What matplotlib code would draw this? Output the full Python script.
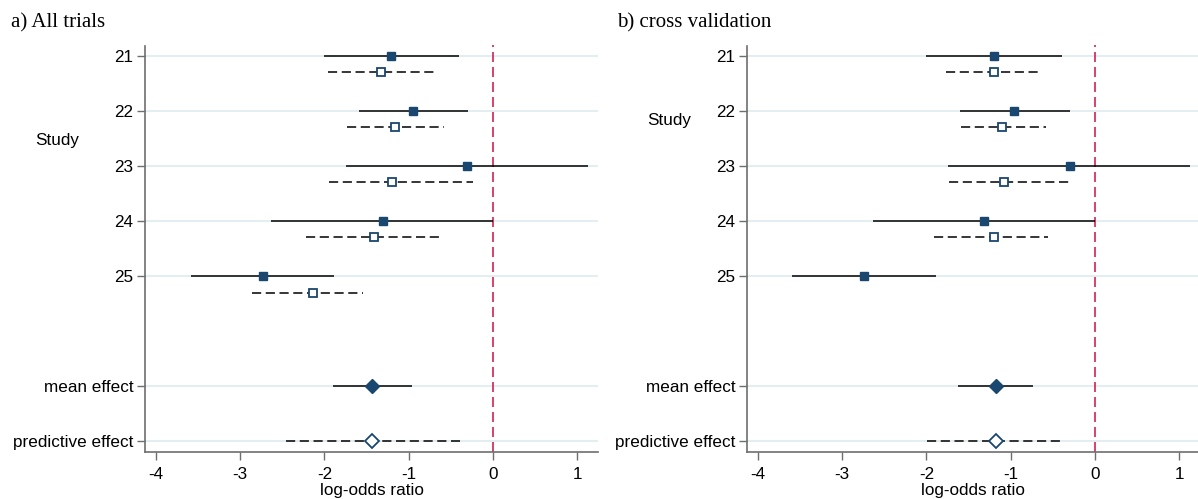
import numpy as np
import matplotlib.pyplot as plt

# rows: studies 21-25, then mean effect and predictive effect
row_labels = ['21', '22', '23', '24', '25', 'mean effect', 'predictive effect']
row_pos = [0, 1, 2, 3, 4, 6, 7]

# a) All trials - study estimates (solid) and shrunken estimates (dashed)
a_est = [-1.205, -0.955, -0.305, -1.31, -2.736]
a_lo = [-2.0, -1.595, -1.74, -2.636, -3.58]
a_hi = [-0.4, -0.30, 1.13, 0.0, -1.886]
a_shr_est = [-1.33, -1.16, -1.195, -1.414, -2.136]
a_shr_lo = [-1.955, -1.73, -1.945, -2.218, -2.855]
a_shr_hi = [-0.69, -0.58, -0.236, -0.618, -1.545]
a_mean = [-1.436, -1.9, -0.96]        # est, lo, hi
a_pred = [-1.436, -2.46, -0.395]

# b) cross validation (no shrunken estimate for study 25)
b_est = [-1.195, -0.959, -0.30, -1.314, -2.745]
b_lo = [-2.009, -1.60, -1.745, -2.636, -3.59]
b_hi = [-0.391, -0.30, 1.13, 0.0, -1.886]
b_shr_est = [-1.195, -1.10, -1.08, -1.20]
b_shr_lo = [-1.764, -1.59, -1.727, -1.905]
b_shr_hi = [-0.636, -0.58, -0.29, -0.56]
b_mean = [-1.173, -1.627, -0.736]
b_pred = [-1.173, -1.99, -0.373]

navy = '#1a476f'
red = '#cf2352'
grid_col = '#e4edf0'
spine_col = '#6e6e6e'
dash = (0, (6, 3))
offset = 0.3

plt.rcParams['font.family'] = ['Liberation Sans', 'DejaVu Sans']

W, H = 1198, 499
fig = plt.figure(figsize=(W / 100, H / 100), dpi=100)


def draw_panel(ax, est, lo, hi, s_est, s_lo, s_hi, mean, pred):
    for y in row_pos:
        ax.axhline(y, color=grid_col, lw=1.5, zorder=0)
    ax.axvline(0, color=red, lw=1.2, linestyle=(0, (6, 3)), zorder=1)

    ys = np.array(row_pos[:len(est)])
    ax.hlines(ys, lo, hi, color='black', lw=1.1, zorder=2)
    ax.plot(est, ys, 's', color=navy, ms=6.3, zorder=3)

    ys2 = np.array(row_pos[:len(s_est)]) + offset
    for y, l, h in zip(ys2, s_lo, s_hi):
        ax.plot([l, h], [y, y], color='black', lw=1.1, linestyle=dash, zorder=2)
    ax.plot(s_est, ys2, 's', mfc='white', mec=navy, mew=1.3, ms=5.5, zorder=3)

    ax.hlines(row_pos[5], mean[1], mean[2], color='black', lw=1.1, zorder=2)
    ax.plot(mean[0], row_pos[5], 'D', color=navy, ms=7.5, zorder=3)
    ax.plot([pred[1], pred[2]], [row_pos[6]] * 2, color='black', lw=1.1,
            linestyle=dash, zorder=2)
    ax.plot(pred[0], row_pos[6], 'D', mfc='white', mec=navy, mew=1.3, ms=7, zorder=3)

    ax.set_xlim(-4.135, 1.25)
    ax.set_ylim(7.19, -0.19)
    ax.set_yticks(row_pos)
    ax.set_yticklabels(row_labels)
    ax.set_xticks([-4, -3, -2, -1, 0, 1])
    ax.set_xticklabels(['-4', '-3', '-2', '-1', '0', '1'])
    ax.tick_params(axis='both', labelsize=12.3, length=6, width=1, color=spine_col,
                   labelcolor='black')
    ax.tick_params(axis='y', pad=2)
    ax.tick_params(axis='x', pad=5)
    ax.set_xlabel('log-odds ratio', fontsize=12.3, labelpad=1)
    for s in ['top', 'right']:
        ax.spines[s].set_visible(False)
    for s in ['left', 'bottom']:
        ax.spines[s].set_color(spine_col)
        ax.spines[s].set_linewidth(1.2)


bottom = 1 - 451.5 / H
height = (451.5 - 45.5) / H
ax1 = fig.add_axes([144.7 / W, bottom, 453.5 / W, height])
ax2 = fig.add_axes([746.6 / W, bottom, 453.5 / W, height])

draw_panel(ax1, a_est, a_lo, a_hi, a_shr_est, a_shr_lo, a_shr_hi, a_mean, a_pred)
draw_panel(ax2, b_est, b_lo, b_hi, b_shr_est, b_shr_lo, b_shr_hi, b_mean, b_pred)

# y axis titles
fig.text(57 / W, 1 - 140 / H, 'Study', fontsize=12.3, ha='center', va='center')
fig.text(669 / W, 1 - 121 / H, 'Study', fontsize=12.3, ha='center', va='center')

# panel titles
fig.text(11 / W, 1 - 23 / H, 'a) All trials', fontsize=15, family='Liberation Serif',
         ha='left', va='center')
fig.text(617 / W, 1 - 23 / H, 'b) cross validation', fontsize=15,
         family='Liberation Serif', ha='left', va='center')

fig.savefig('out.png', dpi=100)
